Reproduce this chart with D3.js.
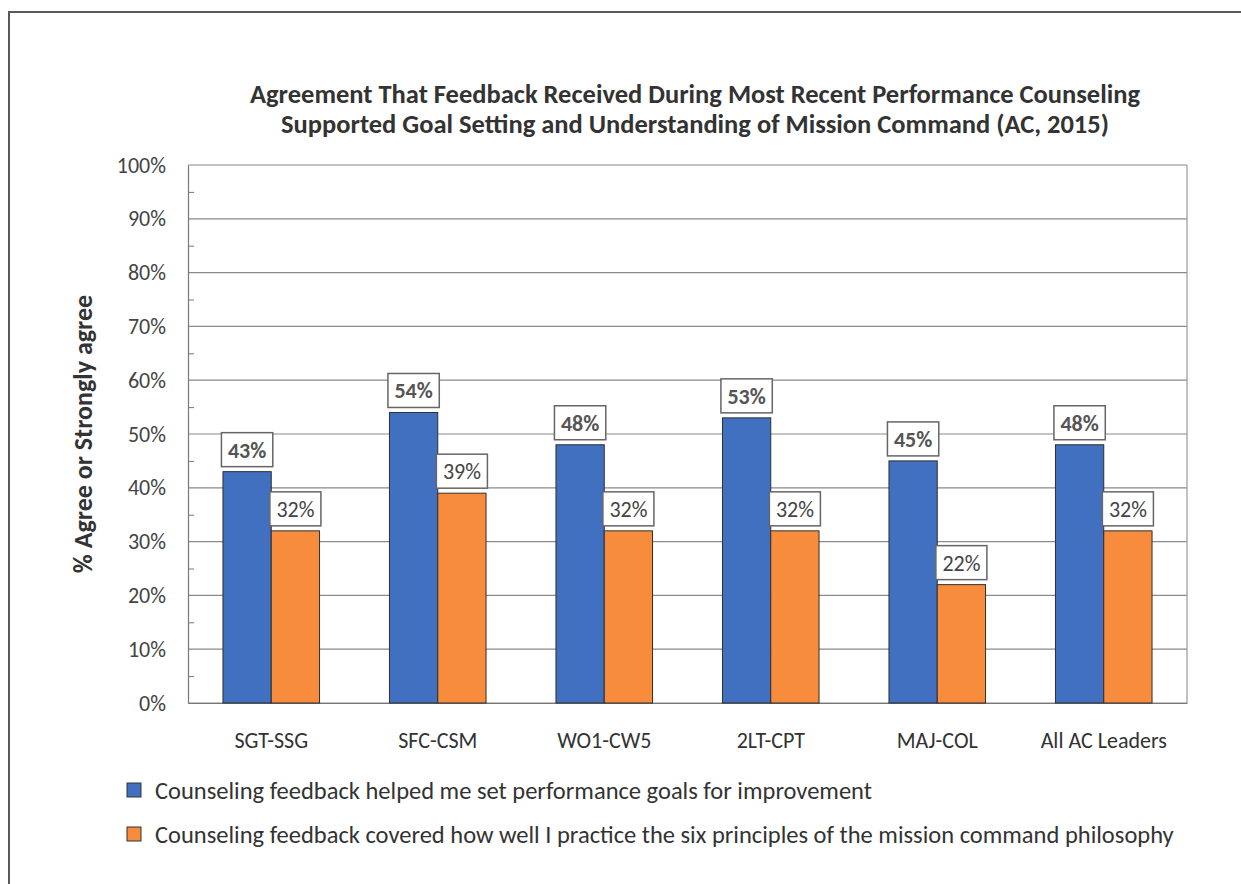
<!DOCTYPE html>
<html lang="en">
<head>
    <meta charset="UTF-8">
    <title>Agreement That Feedback Received During Most Recent Performance Counseling</title>
    <script src="https://d3js.org/d3.v7.min.js"></script>
    <style>
        body {
            margin: 0;
            background-color: white;
            font-family: Carlito, Calibri, Lato, sans-serif;
        }
        svg {
            display: block;
        }
    </style>
</head>
<body>
    <svg width="1241" height="884"></svg>

    <script>
        // data
        const categories = ["SGT-SSG", "SFC-CSM", "WO1-CW5", "2LT-CPT", "MAJ-COL", "All AC Leaders"];
        const goalsValues = [43, 54, 48, 53, 45, 48];
        const missionValues = [32, 39, 32, 32, 22, 32];
        const seriesNames = [
            "Counseling feedback helped me set performance goals for improvement",
            "Counseling feedback covered how well I practice the six principles of the mission command philosophy"
        ];
        const yTicks = [0, 10, 20, 30, 40, 50, 60, 70, 80, 90, 100];
        const minorTicks = [5, 15, 25, 35, 45, 55, 65, 75, 85, 95];
        const titleLines = [
            "Agreement That Feedback Received During Most Recent Performance Counseling",
            "Supported Goal Setting and Understanding of Mission Command (AC, 2015)"
        ];
        const yTitle = "% Agree or Strongly agree";

        const svg = d3.select("svg");
        const margin = {top: 165, right: 54, bottom: 181, left: 188};
        const width = 1241 - margin.left - margin.right,
              height = 884 - margin.top - margin.bottom;

        const colors = ["#4170c0", "#f68c3c"];
        const font = "Carlito, Calibri, Lato, sans-serif";

        // outer frame (top and left edges of the scanned page)
        svg.append("path")
            .attr("d", "M9,884 V12 H1241")
            .attr("fill", "none")
            .attr("stroke", "#5a5a5a")
            .attr("stroke-width", 2);

        const g = svg.append("g").attr("transform", `translate(${margin.left},${margin.top})`);

        const x0 = d3.scaleBand()
            .domain(categories)
            .range([0, width])
            .paddingInner(0.42)
            .paddingOuter(0.21);

        const x1 = d3.scaleBand()
            .domain([0, 1])
            .range([0, x0.bandwidth()]);

        const y = d3.scaleLinear()
            .domain([0, 100])
            .range([height, 0]);

        // gridlines
        g.append("g")
            .selectAll("line")
            .data(yTicks)
            .join("line")
            .attr("x1", 0)
            .attr("x2", width)
            .attr("y1", d => y(d))
            .attr("y2", d => y(d))
            .attr("stroke", "#8a8a8a")
            .attr("stroke-width", 1.2);

        // right border of plot
        g.append("line")
            .attr("x1", width).attr("x2", width)
            .attr("y1", 0).attr("y2", height)
            .attr("stroke", "#9a9a9a")
            .attr("stroke-width", 1.2);

        // left axis with labels
        g.append("g")
            .call(d3.axisLeft(y).tickValues(yTicks).tickFormat(d => d + "%").tickSize(0).tickPadding(22))
            .call(a => a.select(".domain").attr("stroke", "#777").attr("stroke-width", 1.2))
            .call(a => a.selectAll(".tick text")
                .attr("fill", "#444")
                .style("font-family", font)
                .style("font-size", "22px"));

        // minor ticks inside the axis
        g.append("g")
            .call(d3.axisLeft(y).tickValues(minorTicks).tickSize(-6).tickFormat(""))
            .call(a => a.select(".domain").remove())
            .call(a => a.selectAll(".tick line").attr("stroke", "#777"));

        // bottom axis labels
        g.append("g")
            .attr("transform", `translate(0,${height})`)
            .call(d3.axisBottom(x0).tickSize(0).tickPadding(29))
            .call(a => a.select(".domain").attr("stroke", "#777").attr("stroke-width", 1.2))
            .call(a => a.selectAll(".tick text")
                .attr("fill", "#333")
                .style("font-family", font)
                .style("font-size", "22px"));

        const rows = categories.map((c, i) => ({cat: c, values: [goalsValues[i], missionValues[i]]}));

        const groups = g.append("g")
            .selectAll("g")
            .data(rows)
            .join("g")
            .attr("transform", d => `translate(${x0(d.cat)},0)`);

        groups.selectAll("rect")
            .data(d => d.values.map((v, k) => ({k, v})))
            .join("rect")
            .attr("x", d => x1(d.k))
            .attr("y", d => y(d.v))
            .attr("width", x1.bandwidth())
            .attr("height", d => y(0) - y(d.v))
            .attr("fill", d => colors[d.k])
            .attr("stroke", "#2f2f2f")
            .attr("stroke-width", 1);

        // data labels in boxes
        const labels = groups.selectAll("g.lbl")
            .data(d => d.values.map((v, k) => ({k, v})))
            .join("g")
            .attr("class", "lbl")
            .attr("transform", d => `translate(${x1(d.k) + x1.bandwidth() / 2},${y(d.v) - 22})`);

        const boxes = labels.append("rect")
            .attr("y", -17)
            .attr("height", 34)
            .attr("fill", "white")
            .attr("stroke", "#666")
            .attr("stroke-width", 1.5);

        const texts = labels.append("text")
            .attr("text-anchor", "middle")
            .attr("dy", "0.36em")
            .attr("fill", d => d.k === 0 ? "#555" : "#444")
            .style("font-family", font)
            .style("font-size", "22px")
            .style("font-weight", d => d.k === 0 ? "bold" : "normal")
            .text(d => d.v + "%");

        texts.each(function(d) {
            const w = this.getComputedTextLength() + 13;
            d3.select(this.parentNode).select("rect")
                .attr("x", -w / 2)
                .attr("width", w);
        });

        // title
        svg.append("g")
            .selectAll("text")
            .data(titleLines)
            .join("text")
            .attr("x", 695)
            .attr("y", (d, i) => 103 + i * 30)
            .attr("text-anchor", "middle")
            .attr("fill", "#333")
            .style("font-family", font)
            .style("font-size", "26.5px")
            .style("font-weight", "bold")
            .text(d => d);

        // y axis title
        svg.append("text")
            .attr("transform", `translate(92,${margin.top + height / 2}) rotate(-90)`)
            .attr("text-anchor", "middle")
            .attr("fill", "#333")
            .style("font-family", font)
            .style("font-size", "26px")
            .style("font-weight", "bold")
            .text(yTitle);

        // legend
        const legend = svg.append("g")
            .attr("transform", "translate(127,790)");

        seriesNames.forEach((s, i) => {
            const row = legend.append("g").attr("transform", `translate(0,${i * 44})`);
            row.append("rect")
                .attr("x", 0)
                .attr("y", -7)
                .attr("width", 14)
                .attr("height", 14)
                .attr("fill", colors[i])
                .attr("stroke", "#333")
                .attr("stroke-width", 1);
            row.append("text")
                .attr("x", 28)
                .attr("dy", "0.36em")
                .attr("fill", "#333")
                .style("font-family", font)
                .style("font-size", "24.5px")
                .text(s);
        });
    </script>
</body>
</html>
